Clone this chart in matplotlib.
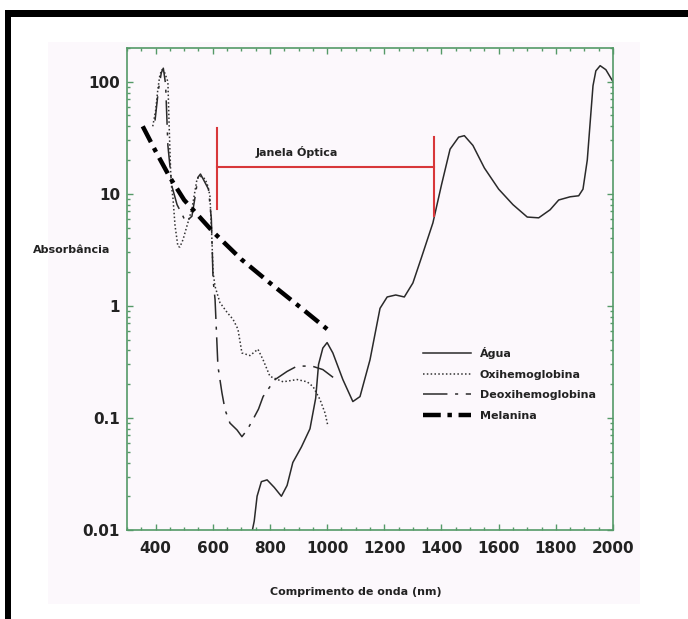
import matplotlib.pyplot as plt
from matplotlib.patches import Rectangle
from matplotlib.ticker import MultipleLocator, LogLocator, FuncFormatter, NullFormatter

# dados (nm, absorbancia)
agua_nm = [735, 745, 755, 770, 790, 815, 840, 860, 880, 910, 940, 960, 970, 985,
           1000, 1020, 1055, 1090, 1115, 1150, 1185, 1210, 1240, 1270, 1300, 1330,
           1370, 1400, 1430, 1460, 1480, 1510, 1550, 1600, 1650, 1700, 1740, 1780,
           1810, 1850, 1880, 1895, 1910, 1920, 1930, 1940, 1955, 1975, 2000]
agua_abs = [0.009, 0.012, 0.02, 0.027, 0.028, 0.024, 0.02, 0.025, 0.04, 0.055, 0.08,
            0.15, 0.3, 0.42, 0.47, 0.38, 0.22, 0.14, 0.155, 0.33, 0.95, 1.2, 1.25,
            1.2, 1.6, 2.7, 5.5, 12, 25, 32, 33, 27, 17, 11, 8, 6.2, 6.1, 7.2, 8.8,
            9.4, 9.6, 11, 20, 43, 92, 125, 139, 128, 100]

oxi_nm = [390, 400, 408, 415, 422, 432, 440, 443, 447, 450, 454, 461, 468, 478, 485,
          496, 510, 527, 545, 555, 573, 583, 590, 597, 601, 608, 625, 650, 671, 688,
          702, 730, 758, 776, 800, 846, 895, 930, 951, 975, 993, 1003]
oxi_abs = [40, 55, 86, 115, 128, 120, 105, 100, 44, 25, 12.7, 9, 5.2, 3.4, 3.35,
           3.9, 5.2, 7.3, 13.6, 14.4, 13.6, 11.7, 9.6, 3.9, 2.0, 1.49, 1.07, 0.875,
           0.757, 0.62, 0.38, 0.36, 0.41, 0.33, 0.235, 0.21, 0.22, 0.21, 0.19,
           0.146, 0.11, 0.084]

deoxi_nm = [398, 410, 420, 427, 435, 443, 457, 475, 496, 505, 527, 540, 548, 557, 570,
            585, 595, 601, 608, 618, 632, 643, 660, 685, 702, 720, 737, 760, 776,
            800, 818, 860, 895, 947, 985, 1021]
deoxi_abs = [45, 85, 120, 132, 95, 27, 11.7, 8, 6.3, 5.6, 6.3, 10, 14, 15, 13, 11, 6,
             1.73, 1.14, 0.29, 0.168, 0.118, 0.09, 0.078, 0.068, 0.078, 0.093, 0.12,
             0.155, 0.19, 0.22, 0.26, 0.29, 0.29, 0.27, 0.23]

mel_nm = [355, 400, 450, 500, 600, 700, 800, 900, 1000]
mel_abs = [40, 24, 14, 8.8, 4.6, 2.6, 1.6, 1.0, 0.62]

janela = [615, 1375]

verde = '#559a68'
texto = '#222222'

fig = plt.figure(figsize=(6.88, 6.19), dpi=100)
fig.add_artist(Rectangle((0.0698, 0.0242), 0.860, 0.908, transform=fig.transFigure,
                         facecolor='#fcf8fc', edgecolor='none', zorder=-10))
# moldura preta
fig.add_artist(Rectangle((0.0073, 0.9725), 0.9927, 0.0113, transform=fig.transFigure,
                         facecolor='black', edgecolor='none', zorder=5))
fig.add_artist(Rectangle((0.0073, 0.0), 0.0087, 0.984, transform=fig.transFigure,
                         facecolor='black', edgecolor='none', zorder=5))

ax = fig.add_axes([0.1846, 0.1438, 0.7064, 0.7787])
ax.patch.set_alpha(0)

ax.plot(agua_nm, agua_abs, color='#2a2a2a', lw=1.1, label='Água')
ax.plot(oxi_nm, oxi_abs, color='#333333', lw=1.1, linestyle=(0, (1, 1.5)),
        label='Oxihemoglobina')
ax.plot(deoxi_nm, deoxi_abs, color='#2a2a2a', lw=1.1, linestyle=(0, (16, 5, 2, 5)),
        label='Deoxihemoglobina')
ax.plot(mel_nm, mel_abs, color='black', lw=3.2, linestyle=(0, (4, 1.5, 1, 1.5)),
        label='Melanina')

# janela optica
ax.plot([janela[0], janela[0]], [7.3, 38.7], color='#d8373a', lw=1.5)
ax.plot([janela[1], janela[1]], [6.3, 32.2], color='#d8373a', lw=1.5)
ax.plot(janela, [17.3, 17.3], color='#d8373a', lw=1.5)
ax.text(895, 23.7, 'Janela Óptica', ha='center', va='center', fontsize=8,
        fontweight='bold', color=texto)

ax.set_yscale('log')
ax.set_xlim(300, 2000)
ax.set_ylim(0.01, 200)

ax.xaxis.set_major_locator(MultipleLocator(200))
ax.xaxis.set_minor_locator(MultipleLocator(50))
ax.yaxis.set_major_locator(LogLocator(base=10))
ax.yaxis.set_minor_locator(LogLocator(base=10, subs=range(2, 10)))
ax.yaxis.set_major_formatter(FuncFormatter(lambda v, p: '%g' % v))
ax.yaxis.set_minor_formatter(NullFormatter())

for s in ax.spines.values():
    s.set_color(verde)
    s.set_linewidth(1.2)

ax.tick_params(which='both', direction='in', top=True, right=True, color=verde)
ax.tick_params(which='major', length=4.5, width=1)
ax.tick_params(which='minor', length=2.5, width=1)
ax.tick_params(axis='y', pad=5)
ax.tick_params(axis='x', pad=8)
for lab in ax.get_xticklabels() + ax.get_yticklabels():
    lab.set_fontsize(11)
    lab.set_fontweight('bold')
    lab.set_color(texto)

fig.text(72 / 688, 1 - 250 / 619, 'Absorbância', ha='center', va='center',
         fontsize=8, fontweight='bold', color=texto)
fig.text(356 / 688, 1 - 592 / 619, 'Comprimento de onda (nm)', ha='center',
         va='center', fontsize=8, fontweight='bold', color=texto)

leg = ax.legend(loc='upper left', bbox_to_anchor=(423 / 688, 1 - 347 / 619),
                bbox_transform=fig.transFigure, frameon=False, borderpad=0,
                borderaxespad=0, handlelength=4.3, handletextpad=0.8,
                labelspacing=0.95, prop={'size': 8, 'weight': 'bold'})
for t in leg.get_texts():
    t.set_color(texto)

fig.savefig('out.png', dpi=100, facecolor='white')
